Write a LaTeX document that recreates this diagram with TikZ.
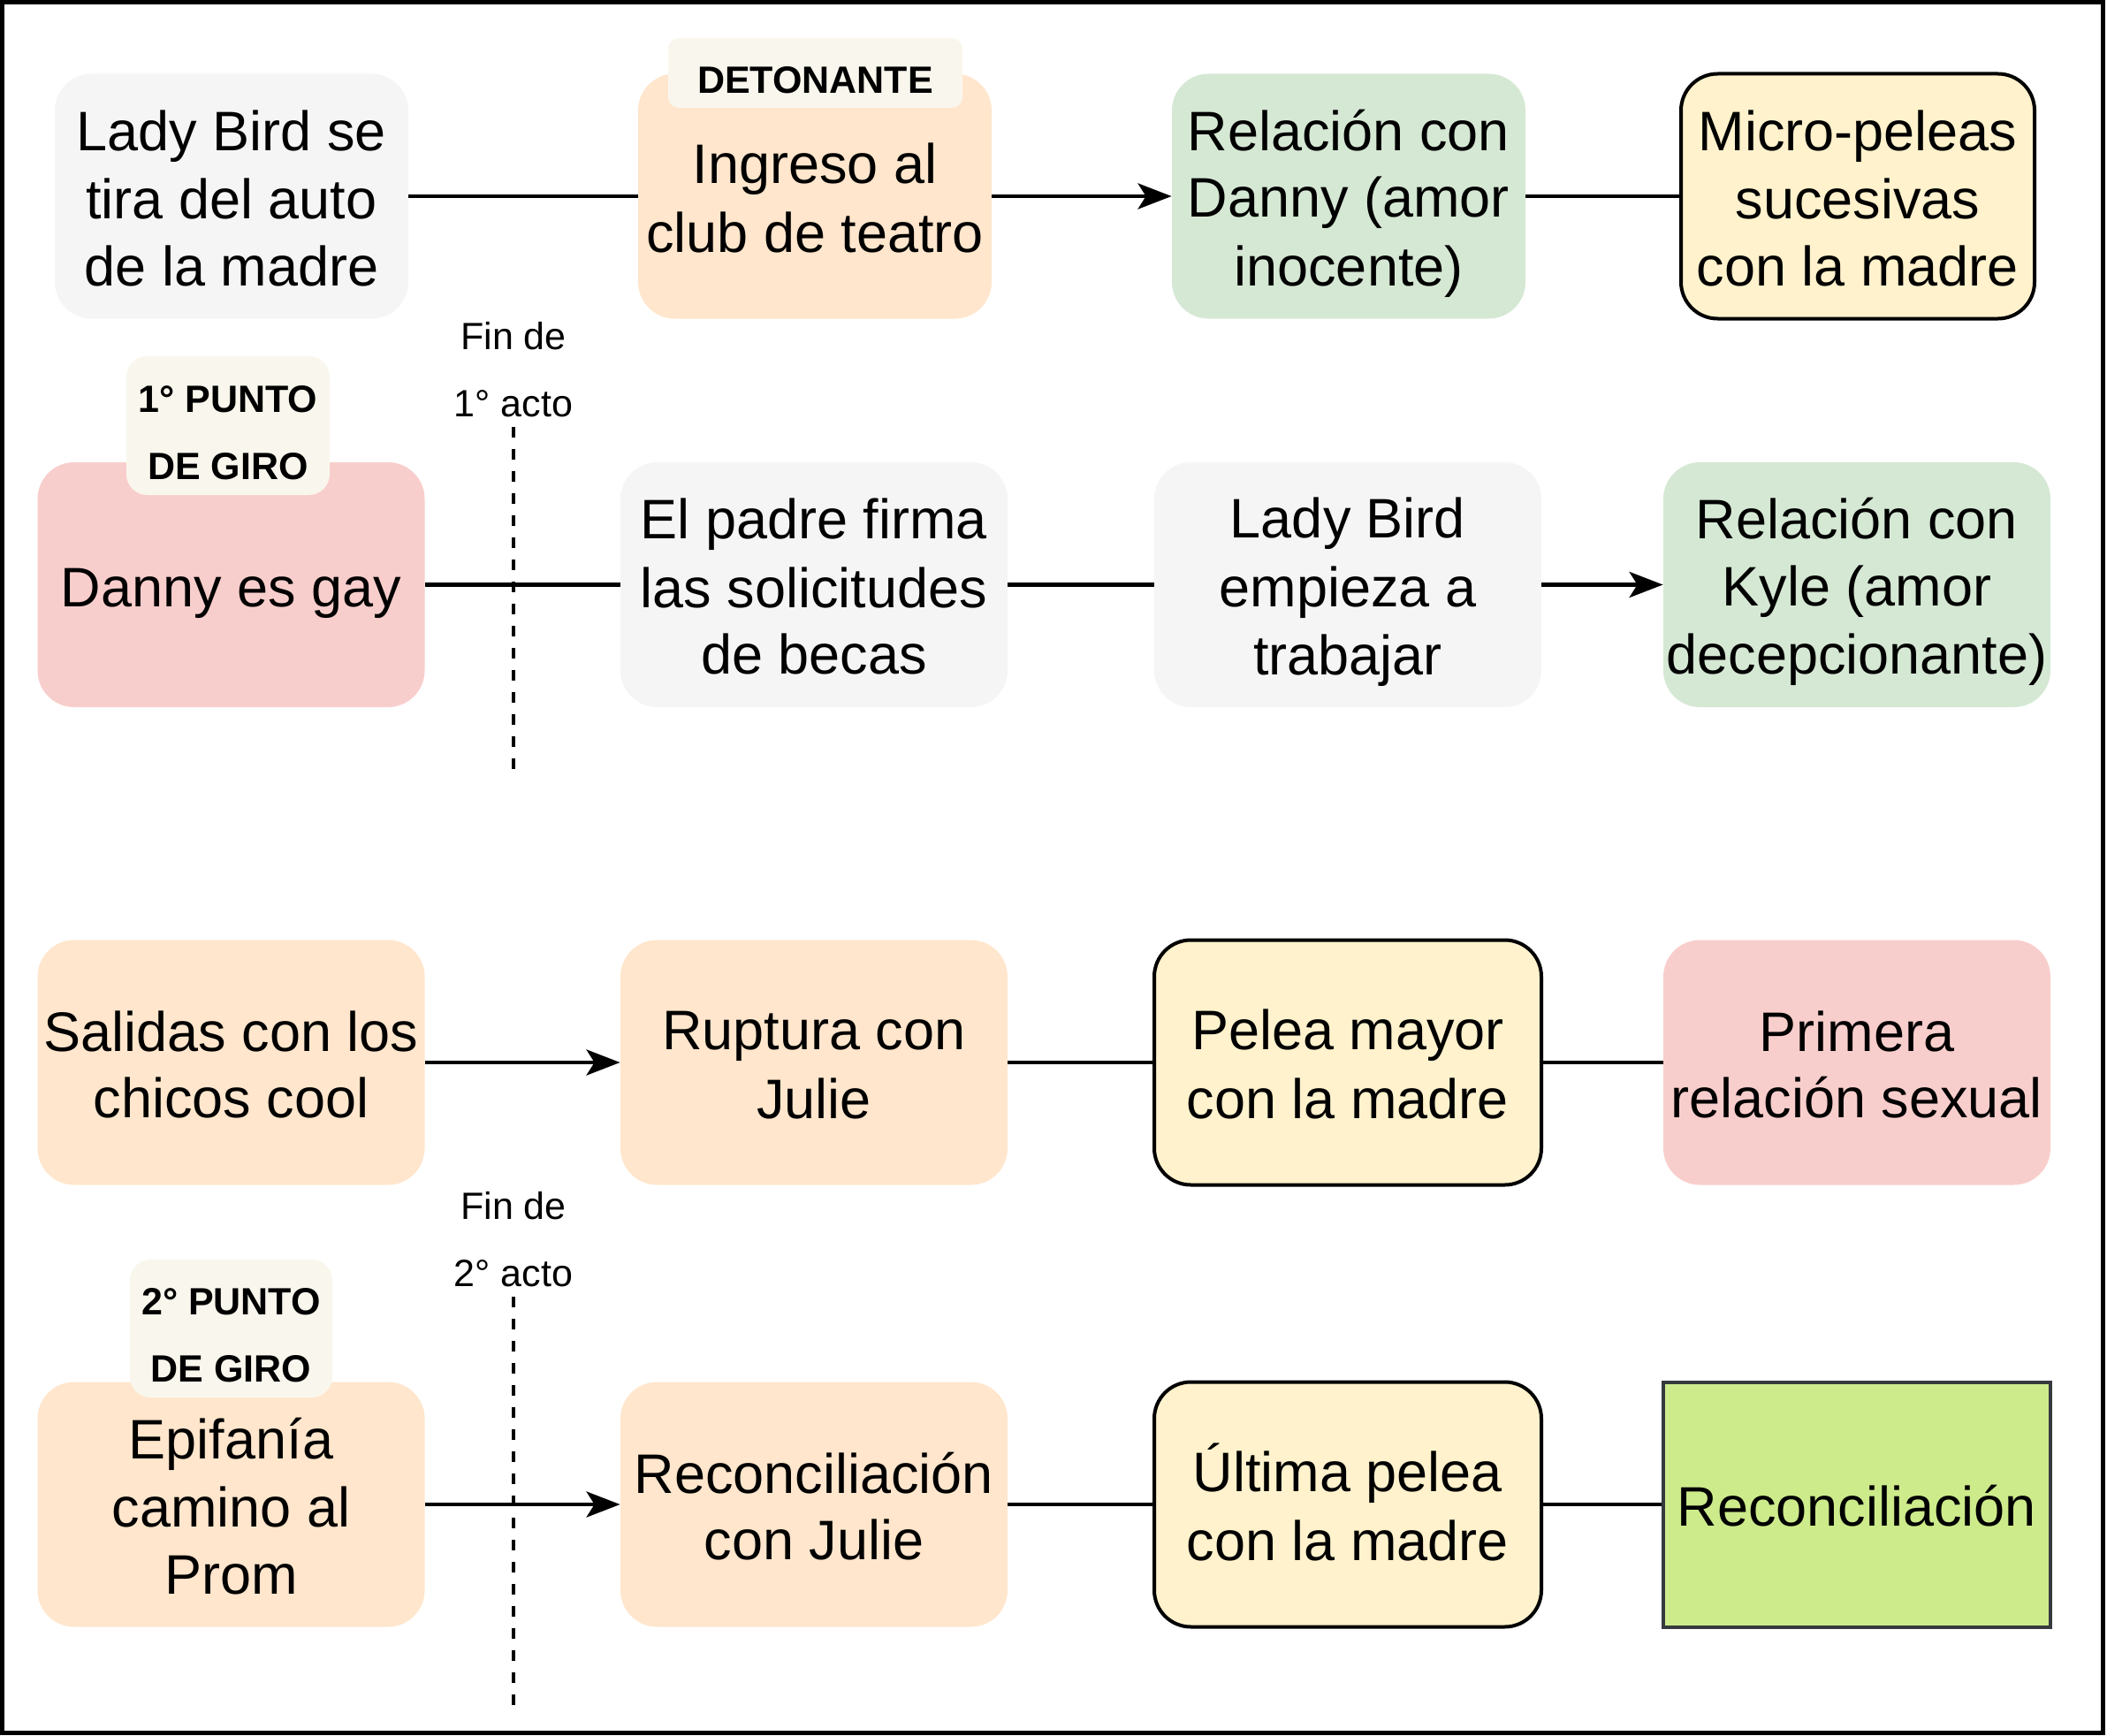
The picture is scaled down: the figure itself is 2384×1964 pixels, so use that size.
\documentclass[tikz,border=0pt]{standalone}
\usepackage{fontspec}
\setmainfont{Liberation Sans}
\usetikzlibrary{arrows.meta}
\definecolor{cgray}{HTML}{F5F5F5}
\definecolor{cpeach}{HTML}{FFE6CC}
\definecolor{cgreen}{HTML}{D5E8D4}
\definecolor{cyellow}{HTML}{FFF2CC}
\definecolor{cred}{HTML}{F8CECC}
\definecolor{ctag}{HTML}{F9F7ED}
\definecolor{clime}{HTML}{CDEB8B}
\definecolor{cdark}{HTML}{36393D}
\newcommand{\bigstrut}{\rule[-6.5pt]{0pt}{37.8pt}}
\newcommand{\smallstrut}{\rule[-11.5pt]{0pt}{38pt}}
\begin{document}
\begin{tikzpicture}[x=0.5pt,y=-0.5pt,
  evt/.style={rounded corners=20.7pt, inner sep=0pt, align=center, text=black,
    font=\fontsize{31.5}{37.8}\selectfont, minimum height=138.5pt},
  wa/.style={minimum width=200pt},
  wb/.style={minimum width=219pt},
  gray/.style={fill=cgray},
  peach/.style={fill=cpeach},
  green/.style={fill=cgreen},
  yellowf/.style={fill=cyellow, draw=black, line width=2pt},
  redf/.style={fill=cred},
  final/.style={inner sep=0pt, align=center, text=black, font=\fontsize{31.5}{37.8}\selectfont,
    minimum height=138.5pt, minimum width=219pt, fill=clime, draw=cdark, line width=2pt},
  tagbox/.style={fill=ctag, inner sep=0pt},
  tagtext/.style={inner sep=0pt, align=center, text=black,
    font=\bfseries\fontsize{21.5}{38}\selectfont},
  note/.style={inner sep=0pt, align=center, text=black, font=\fontsize{21.5}{38}\selectfont},
  link/.style={line width=2.2pt, draw=black},
  arr/.style={link, -{Stealth[length=19pt,width=14.5pt,inset=4.5pt]}},
  cut/.style={line width=2pt, dash pattern=on 6pt off 6.5pt}
]
\useasboundingbox (0,0) rectangle (2384,1964);
\draw[line width=2.5pt] (2.5,2.5) rectangle (2379,1960);

% Row 1
\node[evt,wa,gray]    (a1) at (262,222)  {\bigstrut Lady Bird se\\\bigstrut tira del auto\\\bigstrut de la madre};
\node[evt,wa,peach]   (b1) at (922,222)  {\bigstrut Ingreso al\\\bigstrut club de teatro};
\node[evt,wa,green]   (c1) at (1526,222) {\bigstrut Relación con\\\bigstrut Danny (amor\\\bigstrut inocente)};
\node[evt,wa,yellowf] (d1) at (2102,222) {\bigstrut Micro-peleas\\\bigstrut sucesivas\\\bigstrut con la madre};

% Row 2
\node[evt,wb,redf]    (a2) at (261.5,661.5) {\bigstrut Danny es gay};
\node[evt,wb,gray]    (b2) at (921,661.5)   {\bigstrut El padre firma\\\bigstrut las solicitudes\\\bigstrut de becas};
\node[evt,wb,gray]    (c2) at (1525,661.5)  {\bigstrut Lady Bird\\\bigstrut empieza a\\\bigstrut trabajar};
\node[evt,wb,green]   (d2) at (2101,661.5)  {\bigstrut Relación con\\\bigstrut Kyle (amor\\\bigstrut decepcionante)};

% Row 3
\node[evt,wb,peach]   (a3) at (261.5,1202) {\bigstrut Salidas con los\\\bigstrut chicos cool};
\node[evt,wb,peach]   (b3) at (921,1202)   {\bigstrut Ruptura con\\\bigstrut Julie};
\node[evt,wb,yellowf] (c3) at (1525,1202)  {\bigstrut Pelea mayor\\\bigstrut con la madre};
\node[evt,wb,redf]    (d3) at (2101,1202)  {\bigstrut Primera\\\bigstrut relación sexual};

% Row 4
\node[evt,wb,peach]   (a4) at (261.5,1702) {\bigstrut Epifanía\\\bigstrut camino al\\\bigstrut Prom};
\node[evt,wb,peach]   (b4) at (921,1702)   {\bigstrut Reconciliación\\\bigstrut con Julie};
\node[evt,wb,yellowf] (c4) at (1525,1702)  {\bigstrut Última pelea\\\bigstrut con la madre};
\node[final]          (d4) at (2101,1702)  {\bigstrut Reconciliación};

% Tags
\node[tagbox, rounded corners=6pt, minimum width=166.5pt, minimum height=39.5pt] (t1) at (922.5,82.5) {};
\node[tagtext] (t1x) at (922.5,91) {\smallstrut DETONANTE};
\node[tagbox, rounded corners=11.7pt, minimum width=115pt, minimum height=78.5pt] (t2) at (258,481.5) {};
\node[tagtext] (t2x) at (258,489.5) {\smallstrut 1° PUNTO\\\smallstrut DE GIRO};
\node[tagbox, rounded corners=11.7pt, minimum width=114.5pt, minimum height=78pt] (t3) at (261.5,1503) {};
\node[tagtext] (t3x) at (261.5,1510) {\smallstrut 2° PUNTO\\\smallstrut DE GIRO};

% Act notes and dashed lines
\node[note] (n1) at (581,418) {\smallstrut Fin de\\\smallstrut 1° acto};
\node[note] (n2) at (581,1402) {\smallstrut Fin de\\\smallstrut 2° acto};
\coordinate (k1s) at (581,483);
\coordinate (k1e) at (581,879);
\coordinate (k2s) at (581,1467);
\coordinate (k2e) at (581,1931);
\draw[cut] (k1s) -- (k1e);
\draw[cut] (k2s) -- (k2e);

% Connectors
\draw[link] (a1) -- (b1);
\draw[arr]  (b1) -- (c1);
\draw[link] (c1) -- (d1);

\draw[link] (a2) -- (b2);
\draw[link] (b2) -- (c2);
\draw[arr]  (c2) -- (d2);

\draw[arr]  (a3) -- (b3);
\draw[link] (b3) -- (c3);
\draw[link] (c3) -- (d3);

\draw[arr]  (a4) -- (b4);
\draw[link] (b4) -- (c4);
\draw[link] (c4) -- (d4);
\end{tikzpicture}
\end{document}
